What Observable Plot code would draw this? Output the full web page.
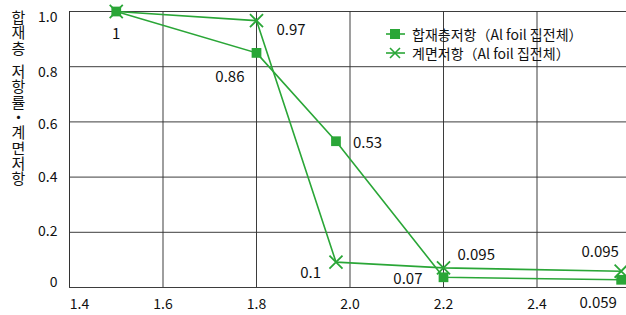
<!DOCTYPE html>
<html><head><meta charset="utf-8">
<script src="https://cdn.jsdelivr.net/npm/d3@7"></script>
<script src="https://cdn.jsdelivr.net/npm/@observablehq/plot@0.6"></script>
<style>
body{margin:0;background:#fff;font-family:"Noto Sans CJK KR","Noto Sans",sans-serif;}
#wrap{position:relative;width:626px;height:315px;}
#ytitle{position:absolute;left:10px;top:10px;writing-mode:vertical-rl;text-orientation:upright;font-size:15px;line-height:16px;color:#111;letter-spacing:0.3px;}
#ytitle span{margin-top:8px;}
#legend{position:absolute;left:386px;top:24px;font-size:14px;color:#111;}
#legend div{display:flex;align-items:center;height:19px;}
#legend svg{margin-right:7px;}
</style></head>
<body><div id="wrap"><div id="ytitle"></div><div id="legend"></div></div>
<script>
const xValues = [1.5, 1.8, 1.97, 2.2, 2.58];
const seriesNames = ["합재층저항（Al foil 집전체）", "계면저항（Al foil 집전체）"];
const yTitleParts = ["합재층", "저항률・계면저항"];
const compositeValues = [1.0, 0.85, 0.53, 0.037, 0.028];
const interfaceValues = [1.0, 0.967, 0.092, 0.071, 0.059];
const compositeLabels = ["1", "0.86", "0.53", "0.07", "0.059"];
const interfaceLabels = ["", "0.97", "0.1", "0.095", "0.095"];
const xTicks = [1.4, 1.6, 1.8, 2.0, 2.2, 2.4];
const yTicks = [0, 0.2, 0.4, 0.6, 0.8, 1.0];
const yTickLabels = ["0", "0.2", "0.4", "0.6", "0.8", "1.0"];

const green = "#2aa637";
const ink = "#111";
const comp = xValues.map((x, i) => ({x, y: compositeValues[i], label: compositeLabels[i], i}));
const intf = xValues.map((x, i) => ({x, y: interfaceValues[i], label: interfaceLabels[i], i}));

// label placements (styling): [dx, dy, anchor] per point index
const compPlace = [[0, 23, "middle"], [-12, 24, "end"], [17, 2, "start"], [-21, 2, "end"], [-23, 23, "middle"]];
const intfPlace = [null, [20, 10, "start"], [-15, 11, "end"], [14, -13, "start"], [-21, -19, "middle"]];
// tick-label vertical nudges (styling), per y tick
const yTickDy = [-5, -1, 0, 3, 6, 6];

const labelMarks = [];
comp.forEach((d, i) => {
  const p = compPlace[i];
  if (p && d.label) labelMarks.push(Plot.text([d], {x: "x", y: "y", text: "label", dx: p[0], dy: p[1], textAnchor: p[2], fontSize: 15, fill: ink}));
});
intf.forEach((d, i) => {
  const p = intfPlace[i];
  if (p && d.label) labelMarks.push(Plot.text([d], {x: "x", y: "y", text: "label", dx: p[0], dy: p[1], textAnchor: p[2], fontSize: 15, fill: ink}));
});
const yAxisMarks = yTicks.map((t, k) => Plot.axisY([t], {tickSize: 0, tickPadding: 12, fontSize: 14, dy: yTickDy[k], fill: ink, tickFormat: (d) => yTickLabels[yTicks.indexOf(d)], label: null}));

const chart = Plot.plot({
  width: 626, height: 315,
  marginLeft: 69, marginRight: -4, marginTop: 11, marginBottom: 28,
  style: {fontFamily: '"Noto Sans CJK KR","Noto Sans",sans-serif', fontSize: "14px", color: ink, background: "transparent", overflow: "visible"},
  x: {domain: [1.4, 2.6], label: null},
  y: {domain: [0, 1], label: null},
  marks: [
    Plot.gridX(xTicks.slice(1).concat([2.6]), {stroke: "#333", strokeOpacity: 0.95}),
    Plot.gridY(yTicks, {stroke: "#333", strokeOpacity: 0.95}),
    Plot.ruleX([1.4], {stroke: "#333"}),
    Plot.axisX([xTicks[0]], {tickSize: 0, tickPadding: 12, fontSize: 14, dx: 10, fill: ink, tickFormat: d3.format(".1f"), label: null}),
    Plot.axisX(xTicks.slice(1), {tickSize: 0, tickPadding: 12, fontSize: 14, fill: ink, tickFormat: d3.format(".1f"), label: null}),
    ...yAxisMarks,
    Plot.line(comp, {x: "x", y: "y", stroke: green, strokeWidth: 1.6}),
    Plot.line(intf, {x: "x", y: "y", stroke: green, strokeWidth: 1.6}),
    Plot.dot(comp, {x: "x", y: "y", symbol: "square", r: 5.5, fill: green}),
    Plot.dot(intf, {x: "x", y: "y", symbol: "times", r: 6, stroke: green, strokeWidth: 1.8}),
    ...labelMarks
  ]
});
document.getElementById("wrap").prepend(chart);
chart.style.position = "absolute"; chart.style.left = "0"; chart.style.top = "0";

const yt = document.getElementById("ytitle");
yt.appendChild(document.createTextNode(yTitleParts[0]));
const sp = document.createElement("span");
sp.textContent = yTitleParts[1];
yt.appendChild(sp);

const legend = document.getElementById("legend");
seriesNames.forEach((name, k) => {
  const row = document.createElement("div");
  const sym = k === 0
    ? `<rect x="4" y="4" width="10" height="10" fill="${green}"/>`
    : `<path d="M4 4L14 14M14 4L4 14" stroke="${green}" stroke-width="1.6"/>`;
  row.innerHTML = `<svg width="19" height="18"><line x1="0" x2="19" y1="9" y2="9" stroke="${green}" stroke-width="1.6"/>${sym}</svg><span>${name}</span>`;
  legend.appendChild(row);
});
</script>
</body></html>
